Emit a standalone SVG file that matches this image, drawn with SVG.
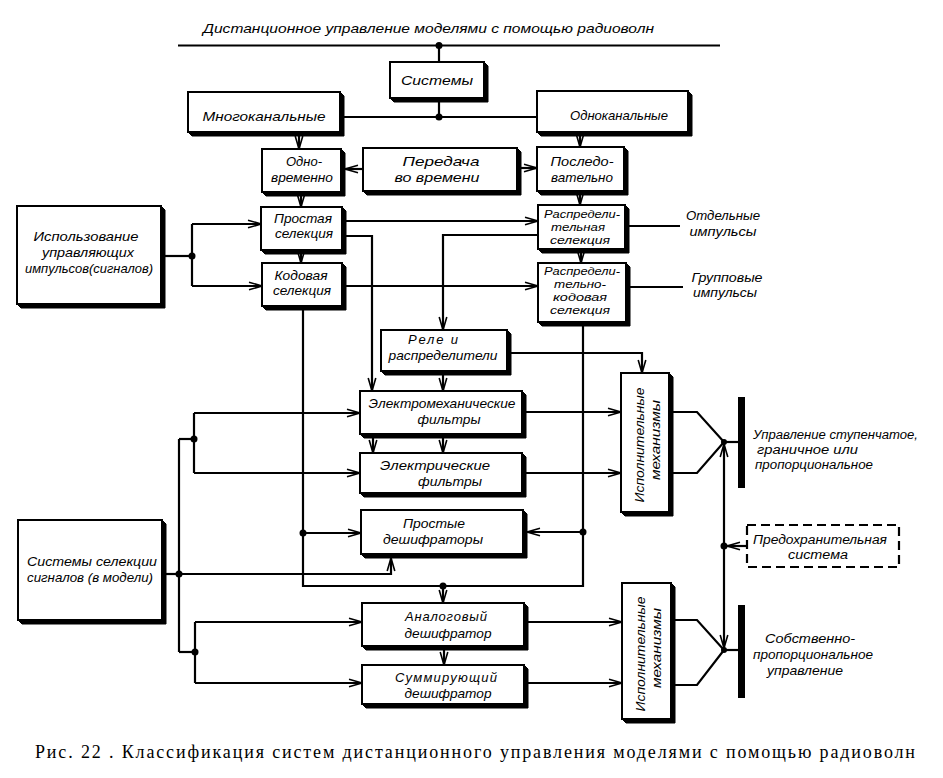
<svg xmlns="http://www.w3.org/2000/svg" width="943" height="778" viewBox="0 0 943 778">
<style>
.box{fill:#fff;stroke:#000;stroke-width:2}
.sh{fill:#000;stroke:#000;stroke-width:1;stroke-linejoin:round}
.t{font-family:"Liberation Sans","DejaVu Sans",sans-serif;font-style:italic;font-size:13px;fill:#000}
.s{font-size:11px}
.m{font-size:12px}
.c{text-anchor:middle}
.ln{fill:none;stroke:#000;stroke-width:2.2;stroke-linejoin:miter}
.ar{fill:none;stroke:#000;stroke-width:2.2;marker-end:url(#a)}
.dot{fill:#000}
.cap{font-family:"Liberation Serif","DejaVu Serif",serif;font-size:18px;fill:#000}
</style>
<defs>
<marker id="a" markerUnits="userSpaceOnUse" markerWidth="16" markerHeight="10" refX="14" refY="5" orient="auto">
<path d="M1,1.2 L14,5 L1,8.8" fill="none" stroke="#000" stroke-width="1.6"/>
</marker>
</defs>
<rect width="943" height="778" fill="#fff"/>

<text class="t" x="203" y="33" font-size="16" textLength="451" lengthAdjust="spacingAndGlyphs">Дистанционное управление моделями с помощью радиоволн</text>

<g id="connectors">
<line class="ln" x1="178" y1="45.5" x2="720" y2="45.5"/>
<circle class="dot" cx="439" cy="45.5" r="3.5"/>
<line class="ln" x1="439" y1="45.5" x2="439" y2="62"/>
<line class="ln" x1="439" y1="102" x2="439" y2="117"/>
<circle class="dot" cx="439" cy="117" r="3.5"/>
<line class="ln" x1="344" y1="117" x2="537" y2="117"/>
<line class="ar" x1="299" y1="136" x2="299" y2="149"/>
<line class="ar" x1="580" y1="136" x2="580" y2="147"/>
<line class="ar" x1="363" y1="169" x2="345" y2="169"/>
<line class="ar" x1="521" y1="168" x2="537" y2="168"/>
<line class="ar" x1="301" y1="196" x2="301" y2="207"/>
<line class="ar" x1="580" y1="195" x2="580" y2="205"/>
<line class="ar" x1="301" y1="254" x2="301" y2="263"/>
<line class="ar" x1="581" y1="253" x2="581" y2="263"/>
<line class="ln" x1="165" y1="256" x2="192" y2="256"/>
<circle class="dot" cx="192" cy="256" r="3.5"/>
<line class="ln" x1="192" y1="224" x2="192" y2="286"/>
<line class="ar" x1="192" y1="224" x2="261" y2="224"/>
<line class="ar" x1="192" y1="286" x2="262" y2="286"/>
<line class="ar" x1="346" y1="221" x2="538" y2="221"/>
<polyline class="ar" points="346,236 372,236 372,391"/>
<line class="ar" x1="346" y1="286" x2="538" y2="286"/>
<polyline class="ar" points="538,235 443,235 443,330"/>
<line class="ln" x1="629" y1="226" x2="680" y2="226"/>
<line class="ln" x1="630" y1="287" x2="683" y2="287"/>
<polyline class="ln" points="583,326 583,586 303,586 303,310"/>
<circle class="dot" cx="583" cy="532" r="3.5"/>
<line class="ar" x1="583" y1="532" x2="527" y2="532"/>
<circle class="dot" cx="303" cy="533" r="3.5"/>
<line class="ar" x1="303" y1="533" x2="361" y2="533"/>
<circle class="dot" cx="443" cy="586" r="3.5"/>
<line class="ar" x1="443" y1="586" x2="443" y2="603"/>
<line class="ar" x1="443" y1="375" x2="443" y2="391"/>
<polyline class="ar" points="511,353 642,353 642,373"/>
<line class="ar" x1="373" y1="438" x2="373" y2="453"/>
<line class="ar" x1="443" y1="438" x2="443" y2="453"/>
<line class="ar" x1="526" y1="412" x2="621" y2="412"/>
<line class="ar" x1="526" y1="473" x2="621" y2="473"/>
<line class="ar" x1="444" y1="650" x2="444" y2="665"/>
<line class="ar" x1="528" y1="622" x2="622" y2="622"/>
<line class="ar" x1="528" y1="683" x2="622" y2="683"/>
<line class="ln" x1="166" y1="574" x2="179" y2="574"/>
<circle class="dot" cx="179" cy="574" r="3.5"/>
<polyline class="ar" points="179,574 391,574 391,558"/>
<line class="ln" x1="179" y1="439" x2="179" y2="652"/>
<line class="ln" x1="179" y1="439" x2="194" y2="439"/>
<circle class="dot" cx="194" cy="439" r="3.5"/>
<line class="ln" x1="194" y1="413" x2="194" y2="473"/>
<line class="ar" x1="194" y1="413" x2="360" y2="413"/>
<line class="ar" x1="194" y1="473" x2="360" y2="473"/>
<line class="ln" x1="179" y1="652" x2="195" y2="652"/>
<circle class="dot" cx="195" cy="652" r="3.5"/>
<line class="ln" x1="195" y1="622" x2="195" y2="683"/>
<line class="ar" x1="195" y1="622" x2="362" y2="622"/>
<line class="ar" x1="195" y1="683" x2="362" y2="683"/>
<polyline class="ln" points="673,412 697,412 724,442 697,473 673,473"/>
<line class="ln" x1="724" y1="442" x2="740" y2="442"/>
<circle class="dot" cx="724" cy="442" r="3"/>
<rect x="738" y="397" width="7" height="91" fill="#000"/>
<polyline class="ln" points="675,620 697,620 724,650 697,685 675,685"/>
<line class="ln" x1="724" y1="650" x2="740" y2="650"/>
<circle class="dot" cx="724" cy="650" r="3"/>
<rect x="738" y="605" width="7" height="93" fill="#000"/>
<line class="ar" x1="724" y1="546" x2="724" y2="444"/>
<line class="ar" x1="724" y1="546" x2="724" y2="648"/>
<circle class="dot" cx="724" cy="546" r="3.5"/>
<line class="ar" x1="747" y1="546" x2="727" y2="546"/>
</g>

<g id="n-sistemy"><polygon class="sh" points="484,62 488,66 488,102 394,102 390,98"/><rect class="box" x="390" y="62" width="94" height="36"/><text class="t c" x="437" y="85" font-size="14" textLength="72" lengthAdjust="spacingAndGlyphs">Системы</text></g>
<g id="n-mnogo"><polygon class="sh" points="340,92 344,96 344,136 192,136 188,132"/><rect class="box" x="188" y="92" width="152" height="40"/><text class="t c" x="264" y="121" font-size="14" textLength="123" lengthAdjust="spacingAndGlyphs">Многоканальные</text></g>
<g id="n-odno"><polygon class="sh" points="688,91 692,95 692,136 541,136 537,132"/><rect class="box" x="537" y="91" width="151" height="41"/><text class="t c" x="619" y="120" font-size="14" textLength="98" lengthAdjust="spacingAndGlyphs">Одноканальные</text></g>
<g id="n-odnovr"><polygon class="sh" points="341,149 345,153 345,196 266,196 262,192"/><rect class="box" x="262" y="149" width="79" height="43"/><text class="t c" x="304" y="166">Одно-</text><text class="t c" x="302" y="182" textLength="62" lengthAdjust="spacingAndGlyphs">временно</text></g>
<g id="n-pered"><polygon class="sh" points="517,148 521,152 521,195 367,195 363,191"/><rect class="box" x="363" y="148" width="154" height="43"/><text class="t c" x="441" y="166" textLength="77" lengthAdjust="spacingAndGlyphs">Передача</text><text class="t c" x="437" y="182" textLength="85" lengthAdjust="spacingAndGlyphs">во времени</text></g>
<g id="n-posled"><polygon class="sh" points="624,147 628,151 628,195 541,195 537,191"/><rect class="box" x="537" y="147" width="87" height="44"/><text class="t c" x="582" y="166" textLength="63" lengthAdjust="spacingAndGlyphs">Последо-</text><text class="t c" x="582" y="182" textLength="62" lengthAdjust="spacingAndGlyphs">вательно</text></g>
<g id="n-prostaya"><polygon class="sh" points="342,207 346,211 346,254 265,254 261,250"/><rect class="box" x="261" y="207" width="81" height="43"/><text class="t c" x="303" y="223" textLength="58" lengthAdjust="spacingAndGlyphs">Простая</text><text class="t c" x="304" y="238" textLength="58" lengthAdjust="spacingAndGlyphs">селекция</text></g>
<g id="n-kodovaya"><polygon class="sh" points="342,263 346,267 346,310 266,310 262,306"/><rect class="box" x="262" y="263" width="80" height="43"/><text class="t c" x="301" y="280" textLength="53" lengthAdjust="spacingAndGlyphs">Кодовая</text><text class="t c" x="302" y="295" textLength="58" lengthAdjust="spacingAndGlyphs">селекция</text></g>
<g id="n-ispolz"><polygon class="sh" points="161,206 165,210 165,308 21,308 17,304"/><rect class="box" x="17" y="206" width="144" height="98"/><text class="t c" x="86" y="241" font-size="14" textLength="105" lengthAdjust="spacingAndGlyphs">Использование</text><text class="t c" x="88" y="257" font-size="14" textLength="92" lengthAdjust="spacingAndGlyphs">управляющих</text><text class="t c" x="89" y="273" font-size="14" textLength="128" lengthAdjust="spacingAndGlyphs">импульсов(сигналов)</text></g>
<g id="n-raspr"><polygon class="sh" points="625,205 629,209 629,253 542,253 538,249"/><rect class="box" x="538" y="205" width="87" height="44"/><text class="t s c" x="582" y="218" textLength="76" lengthAdjust="spacingAndGlyphs">Распредели-</text><text class="t s c" x="578" y="231" textLength="54" lengthAdjust="spacingAndGlyphs">тельная</text><text class="t s c" x="580" y="244" textLength="60" lengthAdjust="spacingAndGlyphs">селекция</text></g>
<g id="n-rasprkod"><polygon class="sh" points="626,263 630,267 630,326 542,326 538,322"/><rect class="box" x="538" y="263" width="88" height="59"/><text class="t s c" x="582" y="275" textLength="76" lengthAdjust="spacingAndGlyphs">Распредели-</text><text class="t s c" x="580" y="288" textLength="52" lengthAdjust="spacingAndGlyphs">тельно-</text><text class="t s c" x="580" y="301" textLength="54" lengthAdjust="spacingAndGlyphs">кодовая</text><text class="t s c" x="580" y="314" textLength="60" lengthAdjust="spacingAndGlyphs">селекция</text></g>
<g id="n-rele"><polygon class="sh" points="507,330 511,334 511,375 385,375 381,371"/><rect class="box" x="381" y="330" width="126" height="41"/><text class="t c" x="433" y="344" textLength="50" lengthAdjust="spacing">Реле и</text><text class="t c" x="443" y="360" textLength="109" lengthAdjust="spacingAndGlyphs">распределители</text></g>
<g id="n-elmeh"><polygon class="sh" points="522,391 526,395 526,438 364,438 360,434"/><rect class="box" x="360" y="391" width="162" height="43"/><text class="t c" x="442" y="408" textLength="147" lengthAdjust="spacingAndGlyphs">Электромеханические</text><text class="t c" x="449" y="424" textLength="63" lengthAdjust="spacingAndGlyphs">фильтры</text></g>
<g id="n-elektr"><polygon class="sh" points="522,453 526,457 526,497 364,497 360,493"/><rect class="box" x="360" y="453" width="162" height="40"/><text class="t c" x="435" y="470" textLength="110" lengthAdjust="spacingAndGlyphs">Электрические</text><text class="t c" x="450" y="486" textLength="64" lengthAdjust="spacingAndGlyphs">фильтры</text></g>
<g id="n-prdesh"><polygon class="sh" points="523,510 527,514 527,558 365,558 361,554"/><rect class="box" x="361" y="510" width="162" height="44"/><text class="t c" x="434" y="528" textLength="62" lengthAdjust="spacingAndGlyphs">Простые</text><text class="t c" x="433" y="544" textLength="100" lengthAdjust="spacingAndGlyphs">дешифраторы</text></g>
<g id="n-sistsel"><polygon class="sh" points="162,520 166,524 166,624 22,624 18,620"/><rect class="box" x="18" y="520" width="144" height="100"/><text class="t c" x="92" y="566" textLength="130" lengthAdjust="spacingAndGlyphs">Системы селекции</text><text class="t c" x="90" y="582" textLength="126" lengthAdjust="spacingAndGlyphs">сигналов (в модели)</text></g>
<g id="n-analog"><polygon class="sh" points="524,603 528,607 528,650 366,650 362,646"/><rect class="box" x="362" y="603" width="162" height="43"/><text class="t c" x="446" y="621" textLength="82" lengthAdjust="spacing">Аналоговый</text><text class="t c" x="448" y="638" textLength="87" lengthAdjust="spacingAndGlyphs">дешифратор</text></g>
<g id="n-summ"><polygon class="sh" points="524,665 528,669 528,708 366,708 362,704"/><rect class="box" x="362" y="665" width="162" height="39"/><text class="t c" x="446" y="682" textLength="102" lengthAdjust="spacing">Суммирующий</text><text class="t c" x="448" y="698" textLength="87" lengthAdjust="spacingAndGlyphs">дешифратор</text></g>
<g id="n-isp1"><polygon class="sh" points="669,373 673,377 673,516 625,516 621,512"/><rect class="box" x="621" y="373" width="48" height="139"/><text class="t c" transform="translate(644,445) rotate(-90)" textLength="115" lengthAdjust="spacingAndGlyphs">Исполнительные</text><text class="t c" transform="translate(660,440) rotate(-90)" textLength="80" lengthAdjust="spacingAndGlyphs">механизмы</text></g>
<g id="n-isp2"><polygon class="sh" points="671,583 675,587 675,723 626,723 622,719"/><rect class="box" x="622" y="583" width="49" height="136"/><text class="t c" transform="translate(645,654) rotate(-90)" textLength="115" lengthAdjust="spacingAndGlyphs">Исполнительные</text><text class="t c" transform="translate(661,648) rotate(-90)" textLength="80" lengthAdjust="spacingAndGlyphs">механизмы</text></g>
<g id="n-predokhr"><rect x="747" y="525" width="152" height="42" fill="#fff" stroke="#000" stroke-width="2.2" stroke-dasharray="9,5"/><text class="t m c" x="820" y="544" textLength="134" lengthAdjust="spacingAndGlyphs">Предохранительная</text><text class="t m c" x="818" y="559" textLength="60" lengthAdjust="spacingAndGlyphs">система</text></g>

<g id="labels">
<text class="t c" x="723" y="220" textLength="74" lengthAdjust="spacingAndGlyphs">Отдельные</text>
<text class="t c" x="723" y="236" textLength="67" lengthAdjust="spacingAndGlyphs">импульсы</text>
<text class="t c" x="727" y="282" textLength="71" lengthAdjust="spacingAndGlyphs">Групповые</text>
<text class="t c" x="725" y="297" textLength="64" lengthAdjust="spacingAndGlyphs">импульсы</text>
<text class="t m" x="753" y="439" textLength="165" lengthAdjust="spacingAndGlyphs">Управление ступенчатое,</text>
<text class="t m" x="757" y="454" textLength="101" lengthAdjust="spacingAndGlyphs">граничное или</text>
<text class="t m" x="755" y="469" textLength="118" lengthAdjust="spacingAndGlyphs">пропорциональное</text>
<text class="t c" x="810" y="643" textLength="90" lengthAdjust="spacingAndGlyphs">Собственно-</text>
<text class="t c" x="813" y="659" textLength="120" lengthAdjust="spacingAndGlyphs">пропорциональное</text>
<text class="t c" x="805" y="675" textLength="76" lengthAdjust="spacingAndGlyphs">управление</text>
</g>

<text class="cap" x="35" y="758" textLength="880" lengthAdjust="spacing">Рис. 22 . Классификация систем дистанционного управления моделями с помощью радиоволн</text>
</svg>
